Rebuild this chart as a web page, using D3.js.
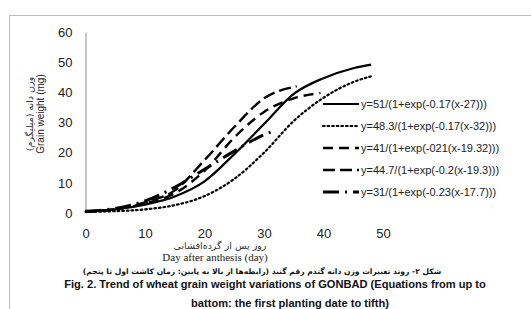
<!DOCTYPE html>
<html>
<head>
<meta charset="utf-8">
<script src="https://cdn.jsdelivr.net/npm/d3@7"></script>
<style>
  body { margin: 0; background: #fff; }
  svg { display: block; }
  .tick text { font-family: "Liberation Sans", Arial, sans-serif; font-size: 13px; fill: #222; }
</style>
</head>
<body>
<svg id="my_container" width="531" height="309"></svg>
<script>
// days after anthesis for each planting date
var days1 = [0, 5, 10, 15, 20, 25, 30, 35, 40, 45, 48];
var days2 = [0, 5, 10, 15, 20, 25, 30, 35, 40, 45, 48];
var days3 = [0, 5, 10, 15, 20, 25, 30, 35, 39.5];
var days4 = [0, 5, 10, 15, 20, 25, 30, 35.5];
var days5 = [0, 5, 10, 15, 20, 25, 29, 32];

// grain weight (mg)
var weight1 = [0.5, 1.2, 2.8, 5.5, 10.5, 19.5, 29.5, 39.5, 44.7, 48, 49.2];
var weight2 = [0.4, 0.6, 1.2, 2.6, 5.6, 11.3, 20, 30.5, 38.2, 43.4, 45.3];
var weight3 = [0.5, 1.2, 3.2, 6.5, 14, 25, 33.5, 38, 39.8];
var weight4 = [0.5, 1.3, 3.5, 7.5, 17.5, 28.5, 38, 42];
var weight5 = [0.6, 1.5, 4, 8.5, 14.5, 20.5, 25, 27.5];

var legendLabels = [
    "y=51/(1+exp(-0.17(x-27)))",
    "y=48.3/(1+exp(-0.17(x-32)))",
    "y=41/(1+exp(-021(x-19.32)))",
    "y=44.7/(1+exp(-0.2(x-19.3)))",
    "y=31/(1+exp(-0.23(x-17.7)))"
];

var xTicks = [0, 10, 20, 30, 40, 50];
var yTicks = [0, 10, 20, 30, 40, 50, 60];

var series = [
    {days: days1, w: weight1, dash: null, width: 2.2},
    {days: days2, w: weight2, dash: "1.6,3", width: 2.2, cap: "round"},
    {days: days3, w: weight3, dash: "10,6", width: 2.4},
    {days: days4, w: weight4, dash: "12,5", width: 2.4},
    {days: days5, w: weight5, dash: "16,6,2,6", width: 3}
];

var svg = d3.select("#my_container");

// outer chart border (runs off the right and bottom of the picture)
svg.append("rect")
    .attr("x", 9.5).attr("y", 15.5)
    .attr("width", 530).attr("height", 310)
    .attr("fill", "none")
    .attr("stroke", "#bcbcbc");

var xScale = d3.scaleLinear().domain([0, 50]).range([85.5, 383]);
var yScale = d3.scaleLinear().domain([0, 60]).range([213, 32]);

var yAxis = svg.append("g")
    .attr("transform", "translate(85.5,0)")
    .call(d3.axisLeft(yScale).tickValues(yTicks).tickSize(0).tickPadding(13));
yAxis.select(".domain").attr("stroke", "#8c8c8c");

var xAxis = svg.append("g")
    .attr("transform", "translate(0,213)")
    .call(d3.axisBottom(xScale).tickValues(xTicks).tickSize(0).tickPadding(16));
xAxis.select(".domain").remove();

var line = d3.line()
    .x(function(d){ return xScale(d[0]); })
    .y(function(d){ return yScale(d[1]); })
    .curve(d3.curveMonotoneX);

series.forEach(function(s){
    var pts = s.days.map(function(d, i){ return [d, s.w[i]]; });
    svg.append("path")
        .attr("d", line(pts))
        .attr("fill", "none")
        .attr("stroke", "#000")
        .attr("stroke-width", s.width)
        .attr("stroke-linecap", s.cap || "butt")
        .attr("stroke-dasharray", s.dash);
});

// legend
var legendY = [104, 126, 148, 170, 192];
series.forEach(function(s, i){
    svg.append("line")
        .attr("x1", 323).attr("x2", 359)
        .attr("y1", legendY[i]).attr("y2", legendY[i])
        .attr("stroke", "#000")
        .attr("stroke-width", s.width)
        .attr("stroke-linecap", s.cap || "butt")
        .attr("stroke-dasharray", s.dash);
    svg.append("text")
        .attr("x", 361).attr("y", legendY[i] + 4)
        .attr("font-family", "Liberation Sans, Arial, sans-serif")
        .attr("font-size", "11px")
        .attr("fill", "#222")
        .text(legendLabels[i]);
});

// shift a text so its box is centred on cx (bidi text does not anchor reliably)
function centerOn(sel, cx){
    var b = sel.node().getBBox();
    sel.attr("x", +sel.attr("x") + cx - (b.x + b.width / 2));
}

// y axis title (Persian + English)
svg.append("text")
    .attr("transform", "translate(33,114) rotate(-90)")
    .attr("text-anchor", "middle")
    .attr("direction", "rtl")
    .attr("font-family", "DejaVu Sans, sans-serif")
    .attr("font-size", "9.5px")
    .attr("fill", "#333")
    .text("وزن دانه (میلیگرم)");
svg.append("text")
    .attr("transform", "translate(44,114) rotate(-90)")
    .attr("text-anchor", "middle")
    .attr("font-family", "Liberation Sans, Arial, sans-serif")
    .attr("font-size", "10px")
    .attr("fill", "#222")
    .text("Grain weight (mg)");

// x axis title
svg.append("text")
    .attr("x", 220).attr("y", 249)
    .attr("text-anchor", "middle")
    .attr("font-family", "DejaVu Sans, sans-serif")
    .attr("font-size", "9.5px")
    .attr("fill", "#333")
    .text("روز پس از گرده‌افشانی");
svg.append("text")
    .attr("x", 215).attr("y", 261)
    .attr("text-anchor", "middle")
    .attr("font-family", "Liberation Serif, Times New Roman, serif")
    .attr("font-size", "11px")
    .attr("fill", "#222")
    .text("Day after anthesis (day)");

// figure caption
var captionFa = svg.append("text")
    .attr("x", 0).attr("y", 274)
    .attr("direction", "rtl")
    .attr("font-family", "DejaVu Sans, sans-serif")
    .attr("font-size", "7.6px")
    .attr("font-weight", "bold")
    .attr("fill", "#111")
    .text("شکل ۲- روند تغییرات وزن دانه گندم رقم گنبد (رابطه‌ها از بالا به پایین: زمان کاشت اول تا پنجم)");
centerOn(captionFa, 262);
svg.append("text")
    .attr("x", 275).attr("y", 288)
    .attr("text-anchor", "middle")
    .attr("font-family", "Liberation Sans, Arial, sans-serif")
    .attr("font-size", "11.1px")
    .attr("font-weight", "bold")
    .attr("fill", "#111")
    .text("Fig. 2. Trend of wheat grain weight variations of GONBAD (Equations from up to");
svg.append("text")
    .attr("x", 290).attr("y", 307)
    .attr("text-anchor", "middle")
    .attr("font-family", "Liberation Sans, Arial, sans-serif")
    .attr("font-size", "11.1px")
    .attr("font-weight", "bold")
    .attr("fill", "#111")
    .text("battom: the first planting date to tifth)");
</script>
</body>
</html>
